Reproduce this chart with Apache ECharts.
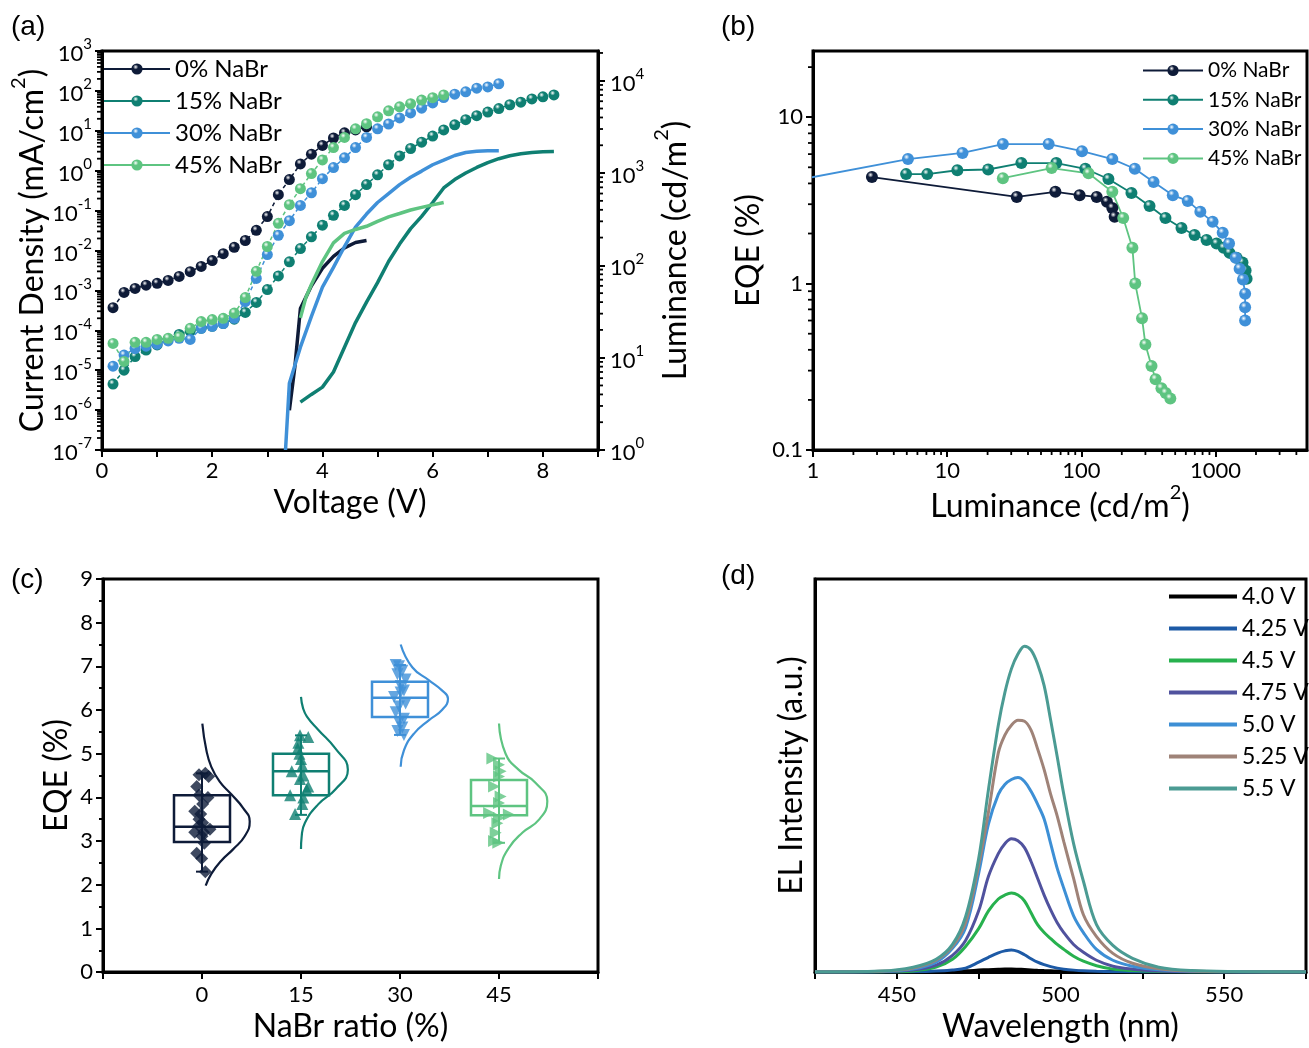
<!DOCTYPE html>
<html>
<head>
<meta charset="utf-8">
<script src="https://cdn.jsdelivr.net/npm/echarts@6.0.0/dist/echarts.min.js"></script>
<style>
html,body{margin:0;padding:0;background:#fff;}
#chart{width:1309px;height:1048px;}
</style>
</head>
<body>
<div id="chart"></div>
<script>
// ================= DATA =================
// (a) current density vs voltage
const voltage = [0.2,0.4,0.6,0.8,1.0,1.2,1.4,1.6,1.8,2.0,2.2,2.4,2.6,2.8,3.0,3.2,3.4,3.6,3.8,4.0,4.2,4.4,4.6,4.8,5.0,5.2,5.4,5.6,5.8,6.0,6.2,6.4,6.6,6.8,7.0,7.2,7.4,7.6,7.8,8.0,8.2];
const J0  = [3.7e-4,8.9e-4,1.12e-3,1.35e-3,1.5e-3,1.78e-3,2.24e-3,2.95e-3,3.98e-3,5.6e-3,8.3e-3,1.2e-2,1.78e-2,3.2e-2,7.1e-2,0.25,0.6,1.48,2.6,4.3,6.6,8.9,10.5,12.6];
const J15 = [4.5e-6,1.0e-5,2.2e-5,3.2e-5,4.3e-5,6.0e-5,7.9e-5,9.5e-5,1.12e-4,1.26e-4,1.48e-4,1.9e-4,2.8e-4,5.0e-4,1.05e-3,2.3e-3,5.2e-3,1.12e-2,2.2e-2,4.3e-2,7.6e-2,0.135,0.25,0.45,0.79,1.41,2.34,3.6,5.2,7.4,10.5,14.1,19,24,29.5,36,45,52,63,71,79];
const J30 = [1.26e-5,2.4e-5,3.5e-5,4.0e-5,4.5e-5,5.4e-5,6.3e-5,5.9e-5,1.12e-4,1.26e-4,1.48e-4,2.0e-4,5.2e-4,2.0e-3,7.9e-3,2.4e-2,5.6e-2,0.135,0.28,0.63,1.2,2.1,3.8,6.8,11.2,14.8,21,28,37,50,68,83,95,117,126,151];
const J45 = [4.7e-5,1.66e-5,5.0e-5,5.0e-5,5.9e-5,6.3e-5,6.8e-5,1.12e-4,1.66e-4,1.86e-4,2.0e-4,2.7e-4,6.6e-4,3.0e-3,1.26e-2,4.8e-2,0.141,0.355,0.85,1.86,3.8,6.8,11.2,15.1,22.4,31.6,39.8,47.9,58.9,67.6,79.4];
// (a) luminance vs voltage
const lumV0  = [3.4,3.5,3.6,3.8,4.0,4.2,4.4,4.6,4.8];
const lum0   = [2.7,8,34,60,93,125,155,177,186];
const lumV15 = [3.6,3.8,4.0,4.2,4.4,4.6,4.8,5.0,5.2,5.4,5.6,5.8,6.0,6.2,6.4,6.6,6.8,7.0,7.2,7.4,7.6,7.8,8.0,8.2];
const lum15  = [3.3,4.0,4.8,7,13,24,40,65,110,170,250,340,480,690,850,1000,1150,1300,1430,1540,1620,1670,1700,1710];
const lumV30 = [3.33,3.4,3.6,3.8,4.0,4.2,4.4,4.6,4.8,5.0,5.2,5.4,5.6,5.8,6.0,6.2,6.4,6.6,6.8,7.0,7.2];
const lum30  = [1.0,5.3,13,28,58,95,160,260,360,480,600,750,900,1050,1230,1380,1550,1670,1720,1740,1740];
const lumV45 = [3.6,3.7,3.8,4.0,4.2,4.4,4.6,4.8,5.0,5.2,5.4,5.6,5.8,6.0,6.2];
const lum45  = [27,45,62,110,175,222,245,265,300,335,365,398,425,452,480];
// (b) EQE vs luminance
const lumB0  = [2.75,33,64,97,130,155,170,177];
const eqeB0  = [4.37,3.32,3.56,3.4,3.32,3.1,2.85,2.52];
const lumB15 = [4.94,7.1,11.9,20.2,35.7,65,107,159,236,322,423,557,697,857,1017,1148,1271,1435,1587,1674,1703];
const eqeB15 = [4.55,4.55,4.8,4.85,5.3,5.3,4.9,4.25,3.5,2.93,2.48,2.16,1.96,1.83,1.74,1.64,1.53,1.43,1.34,1.2,1.07];
const lumB30 = [0.5,5.1,13,26,57,101,170,250,345,480,620,770,950,1130,1260,1410,1510,1600,1660,1660,1660];
const eqeB30 = [3.93,5.6,6.1,6.9,6.9,6.25,5.6,4.9,4.08,3.4,3.14,2.7,2.35,2.02,1.74,1.43,1.23,1.06,0.87,0.72,0.6];
const lumB45 = [26,60,113,170,205,240,252,283,300,333,357,395,425,460];
const eqeB45 = [4.3,4.95,4.6,3.56,2.48,1.64,1.0,0.62,0.43,0.32,0.266,0.235,0.22,0.204];
// (c) EQE statistics
const ratioCats   = [0,15,30,45];
const ratioLabels = ['0','15','30','45'];
const eqe0  = [4.52,4.55,4.48,4.25,4.05,4.0,3.85,3.68,3.62,3.5,3.42,3.35,3.27,3.2,3.2,3.11,2.95,2.72,2.6,2.3];
const jit0  = [-0.45,0.5,1.0,-0.8,-0.45,0.9,0.1,-1.1,-0.2,-0.45,0.1,-0.45,1.2,-1.1,0.25,0,0.35,-0.8,-0.05,0.5];
const eqe15 = [5.42,5.38,5.25,5.12,5.0,4.88,4.73,4.6,4.5,4.42,4.25,4.18,4.05,4.0,3.85,3.62];
const jit15 = [-0.15,1.1,-0.4,-0.5,-0.25,0,0.2,-1.4,0.35,-0.15,1.1,0.85,-1.65,0.35,0.2,-0.9];
const eqe30 = [7.03,7.0,6.9,6.82,6.7,6.55,6.45,6.4,6.3,6.15,6.08,5.95,5.8,5.72,5.6,5.52,5.43];
const jit30 = [-0.65,-0.15,0.35,-0.4,0.85,0.1,0.6,0.1,-0.9,0.85,-0.15,-0.65,0.6,-0.15,0.35,-0.4,0.6];
const eqe45 = [4.89,4.75,4.6,4.48,4.25,4.02,3.87,3.64,3.61,3.53,3.41,3.19,3.0,2.96];
const jit45 = [-1.0,0,0.25,0,-0.75,0.25,0,-1.5,1.5,0,-0.25,-0.5,-0.75,-0.1];
// box: [min, Q1, median, Q3, max]
const box0  = [2.3,2.98,3.33,4.05,4.55];
const box15 = [3.6,4.05,4.6,5.0,5.42];
const box30 = [5.43,5.84,6.28,6.65,7.03];
const box45 = [2.96,3.59,3.8,4.4,4.89];
// distribution curves: [EQE, width in ratio units]
const curve0  = [[5.69,0.05],[5.09,0.65],[4.70,1.41],[4.36,2.68],[4.07,4.44],[3.76,6.21],[3.45,7.23],[3.11,6.47],[2.81,4.70],[2.55,2.92],[2.25,1.41],[1.98,0.56]];
const curve15 = [[6.3,0],[6.05,0.3],[5.85,0.9],[5.55,2.6],[5.12,5.2],[4.63,7.1],[4.18,5.2],[3.84,2.6],[3.42,0.6],[3.1,0.1],[2.82,0]];
const curve30 = [[7.5,0.1],[6.98,1.86],[6.68,4.4],[6.45,6.36],[6.26,7.27],[6.0,6.36],[5.77,4.4],[5.46,2.12],[5.08,0.6],[4.7,0.1]];
const curve45 = [[5.69,0],[5.0,1.0],[4.63,3.0],[4.33,5.56],[3.91,7.32],[3.49,6.06],[3.19,3.53],[2.85,1.52],[2.43,0.26],[2.13,0]];
// (d) EL spectra
const wl    = [425,445,455,462,467,471,475,478,481,483,485,487,489,491,493,495,497,499,501,504,507,511,516,522,530,540,555,575];
const el40  = [0,0,0,0.2,0.5,0.8,1.5,2,2.4,2.6,2.6,2.4,2.1,1.7,1.3,1,0.8,0.6,0.4,0.3,0.2,0.1,0,0,0,0,0,0];
const el425 = [0,0,0.3,1,2.2,4,10,15,19.5,21.5,22.5,21,17.5,13.5,10,7.5,5.5,4,3,2,1.3,0.8,0.4,0.2,0,0,0,0];
const el45  = [0,0.2,1.2,5,13,26,44,62,74,78,80,78,72,60,48,40,34,28,23,16,11,6.5,3,1.5,0.5,0.2,0,0];
const el475 = [0,0.4,2,7,17,32,62,97,120,130,135,133,126,112,95,78,63,50,40,28,20,12,6,3,1.2,0.4,0,0];
const el50  = [0,0.6,3,10,24,45,100,150,180,190,195,197,193,183,170,155,130,105,85,57,40,23,12,6,2.5,0.8,0.2,0];
const el525 = [0,0.8,4,12,26,50,108,162,222,240,250,255,254,245,226,205,180,158,132,95,58,36,19,9,3.5,1,0.3,0];
const el55  = [0,1,5,13,28,56,115,185,250,283,307,322,330,326,312,290,255,218,180,130,92,48,27,14,5,1.5,0.5,0];
const voltLabels = ['4.0 V','4.25 V','4.5 V','4.75 V','5.0 V','5.25 V','5.5 V'];
const seriesNames = ['0% NaBr','15% NaBr','30% NaBr','45% NaBr'];
// minor-tick mantissas for the logarithmic axes
const mantissas = [2,3,4,5,6,7,8,9];

// ================= STYLE =================
const FONT = 'Lato';
const navy='#0e1b38', teal='#0f7f72', blue='#3f90d8', green='#5ec481';
const mainColors = [navy, teal, blue, green];
const elColors = ['#000000','#1d5aa6','#27b14e','#50529e','#3d8fd5','#9f8378','#4b9b93'];
function sphere(c){return {type:'radial',x:0.38,y:0.32,r:0.72,colorStops:[{offset:0,color:'#ffffff'},{offset:0.32,color:c},{offset:1,color:c}]};}
const zip = (xs, ys) => ys.map((y,i)=>[xs[i], y]);

const powRich = {
  b:{fontSize:22,fontFamily:FONT,color:'#000',lineHeight:28,verticalAlign:'bottom'},
  s:{fontSize:15,fontFamily:FONT,color:'#000',lineHeight:12,verticalAlign:'top'}
};
const nameRich = {
  t:{fontSize:32,fontFamily:FONT,color:'#000',lineHeight:40,verticalAlign:'bottom'},
  s:{fontSize:20,fontFamily:FONT,color:'#000',lineHeight:18,verticalAlign:'top'}
};
function isPow(v){const l=Math.log10(v);return Math.abs(l-Math.round(l))<1e-6;}
function powLabel(v){ if(!isPow(v)) return ''; return '{b|10}{s|'+Math.round(Math.log10(v))+'}'; }
function decLabel(v){ if(!isPow(v)) return ''; const e=Math.round(Math.log10(v)); return e<0 ? Math.pow(10,e).toFixed(-e) : String(Math.round(Math.pow(10,e))); }

function axisBase(extra){
  const base = {
    axisLine:{show:true,onZero:false,lineStyle:{color:'#000',width:3}},
    axisTick:{show:true,inside:false,length:7,lineStyle:{color:'#000',width:2}},
    axisLabel:{show:true,color:'#000',fontSize:22,fontFamily:FONT,margin:10},
    splitLine:{show:false},
    nameLocation:'middle',
    nameTextStyle:{color:'#000',fontSize:32,fontFamily:FONT,lineHeight:40}
  };
  for (const k in extra){
    if (base[k] && typeof base[k]==='object' && typeof extra[k]==='object' && !Array.isArray(extra[k])) base[k]=Object.assign({},base[k],extra[k]);
    else base[k]=extra[k];
  }
  return base;
}
const gridStyle = {show:true,borderColor:'#000',borderWidth:3,backgroundColor:'transparent'};

// minor ticks of log axes (drawn as short strokes at the axis line)
function logMinor(lo, hi){
  const out=[];
  for(let e=Math.floor(Math.log10(lo)); e<=Math.ceil(Math.log10(hi)); e++){
    mantissas.forEach(m=>{const v=+(m*Math.pow(10,e)).toPrecision(6); if(v>lo && v<hi) out.push(v);});
  }
  return out;
}
function tickSeries(xi, yi, pts, dir, len){
  return {type:'custom',xAxisIndex:xi,yAxisIndex:yi,silent:true,z:6,clip:false,data:pts,encode:{x:0,y:1},
    renderItem:(params,api)=>{
      const p=api.coord([api.value(0),api.value(1)]); let x2=p[0], y2=p[1];
      if(dir==='left') x2-=len+1.5; else if(dir==='right') x2+=len+1.5; else y2+=len+1.5;
      return {type:'line',shape:{x1:p[0],y1:p[1],x2:x2,y2:y2},style:{stroke:'#000',lineWidth:1.8}};
    }};
}

// ================= SERIES =================
const series = [];
// (a) luminance lines
[[lumV0,lum0],[lumV15,lum15],[lumV30,lum30],[lumV45,lum45]].forEach((p,i)=>{
  series.push({type:'line',name:'L'+i,xAxisIndex:0,yAxisIndex:1,data:zip(p[0],p[1]),symbol:'none',
    lineStyle:{color:mainColors[i],width:3.5},z:2,clip:true});
});
// (a) current density
[J0,J15,J30,J45].forEach((J,i)=>{
  series.push({type:'line',name:seriesNames[i],xAxisIndex:0,yAxisIndex:0,data:zip(voltage,J),
    symbol:'circle',symbolSize:11,itemStyle:{color:sphere(mainColors[i])},
    lineStyle:{color:mainColors[i],width:1.5,type:[4,3]},z:3});
});
// (b) EQE vs luminance
[[lumB0,eqeB0],[lumB15,eqeB15],[lumB30,eqeB30],[lumB45,eqeB45]].forEach((p,i)=>{
  series.push({type:'line',name:seriesNames[i],xAxisIndex:1,yAxisIndex:2,data:zip(p[0],p[1]),
    symbol:'circle',symbolSize:12,itemStyle:{color:sphere(mainColors[i])},
    lineStyle:{color:mainColors[i],width:1.8},z:3,clip:true});
});
// (c) boxes
const boxes = [box0,box15,box30,box45];
series.push({type:'custom',xAxisIndex:2,yAxisIndex:3,z:2,
  data: ratioCats.map((c,i)=>[c].concat(boxes[i])),
  encode:{x:0,y:[1,2,3,4,5]},
  renderItem:(params,api)=>{
    const x=api.value(0), col=mainColors[params.dataIndex];
    const p=[1,2,3,4,5].map(k=>api.coord([x,api.value(k)]));
    const hw=28, cw=6;
    return {type:'group',children:[
      {type:'line',shape:{x1:p[0][0],y1:p[0][1],x2:p[4][0],y2:p[4][1]},style:{stroke:col,lineWidth:2}},
      {type:'line',shape:{x1:p[0][0]-cw,y1:p[0][1],x2:p[0][0]+cw,y2:p[0][1]},style:{stroke:col,lineWidth:2}},
      {type:'line',shape:{x1:p[4][0]-cw,y1:p[4][1],x2:p[4][0]+cw,y2:p[4][1]},style:{stroke:col,lineWidth:2}},
      {type:'rect',shape:{x:p[3][0]-hw,y:p[3][1],width:2*hw,height:p[1][1]-p[3][1]},style:{stroke:col,lineWidth:2.5,fill:'rgba(0,0,0,0)'}},
      {type:'line',shape:{x1:p[2][0]-hw,y1:p[2][1],x2:p[2][0]+hw,y2:p[2][1]},style:{stroke:col,lineWidth:2.5}}
    ]};
  }
});
// (c) points
const ptSets = [[eqe0,jit0,'diamond',0,13],[eqe15,jit15,'triangle',0,12],[eqe30,jit30,'triangle',180,12],[eqe45,jit45,'triangle',-90,12]];
ptSets.forEach((s,i)=>{
  series.push({type:'scatter',xAxisIndex:2,yAxisIndex:3,z:4,symbol:s[2],symbolRotate:s[3],symbolSize:s[4],
    itemStyle:{color:mainColors[i]},data:s[0].map((v,k)=>[ratioCats[i]+s[1][k],v])});
});
// (c) distribution curves
[curve0,curve15,curve30,curve45].forEach((cv,i)=>{
  series.push({type:'line',xAxisIndex:2,yAxisIndex:3,z:3,symbol:'none',smooth:0.5,
    lineStyle:{color:mainColors[i],width:2.2},data:cv.map(p=>[ratioCats[i]+p[1],p[0]])});
});
// (d) spectra
[el40,el425,el45,el475,el50,el525,el55].forEach((d,i)=>{
  series.push({type:'line',name:voltLabels[i],xAxisIndex:3,yAxisIndex:4,data:zip(wl,d),symbol:'none',smooth:0.35,
    lineStyle:{color:elColors[i],width:i===0?4:3},itemStyle:{color:elColors[i]},z:2+i*0.01});
});
// minor ticks on log axes
series.push(tickSeries(0,0,logMinor(1e-7,1e3).map(v=>[0,v]),'left',3.5));
series.push(tickSeries(0,1,logMinor(1,21000).map(v=>[9,v]),'right',3.5));
series.push(tickSeries(1,2,logMinor(0.1,25).map(v=>[1,v]),'left',3.5));
series.push(tickSeries(1,2,logMinor(1,4800).map(v=>[v,0.1]),'down',3.5));

// ================= OPTION =================
const legendText = (fs)=>({color:'#000',fontSize:fs,fontFamily:FONT,lineHeight:fs});
const option = {
  animation:false,
  backgroundColor:'#fff',
  grid:[
    Object.assign({left:102,top:51,width:496,height:399},gridStyle),
    Object.assign({left:813,top:51,width:494,height:399},gridStyle),
    Object.assign({left:103,top:579,width:495,height:398},gridStyle),
    Object.assign({left:815,top:579,width:498,height:398},gridStyle)
  ],
  xAxis:[
    axisBase({gridIndex:0,type:'value',min:0,max:9,interval:1,name:'Voltage (V)',nameGap:32,
      axisLabel:{formatter:v=>(v%2===0&&v<9)?String(v):''}}),
    axisBase({gridIndex:1,type:'log',logBase:10,min:1,max:4800,interval:1,name:'{t|Luminance (cd/m}{s|2}{t|)}',nameGap:32,
      nameTextStyle:{rich:nameRich},axisLabel:{formatter:decLabel,showMaxLabel:false}}),
    axisBase({gridIndex:2,type:'value',min:-15,max:60,interval:15,name:'NaBr ratio (%)',nameGap:34,
      axisLabel:{formatter:v=>{const k=ratioCats.indexOf(v);return k>=0?ratioLabels[k]:'';},margin:12}}),
    axisBase({gridIndex:3,type:'value',min:425,max:575,interval:25,name:'Wavelength (nm)',nameGap:34,
      axisLabel:{formatter:v=>(v%50===0)?String(v):'',margin:12}})
  ],
  yAxis:[
    axisBase({gridIndex:0,type:'log',logBase:10,min:1e-7,max:1e3,interval:1,name:'{t|Current Density (mA/cm}{s|2}{t|)}',nameGap:52,
      nameTextStyle:{rich:nameRich},axisLabel:{formatter:powLabel,rich:powRich}}),
    axisBase({gridIndex:0,type:'log',logBase:10,position:'right',min:1,max:21000,interval:1,name:'{t|Luminance (cd/m}{s|2}{t|)}',nameGap:54,
      nameTextStyle:{rich:nameRich},axisLabel:{formatter:powLabel,rich:powRich,showMaxLabel:false,margin:12}}),
    axisBase({gridIndex:1,type:'log',logBase:10,min:0.1,max:25,interval:1,name:'EQE (%)',nameGap:40,
      axisLabel:{formatter:decLabel,showMaxLabel:false}}),
    axisBase({gridIndex:2,type:'value',min:0,max:9,interval:1,name:'EQE (%)',nameGap:17,
      minorTick:{show:true,splitNumber:2,length:4,lineStyle:{color:'#000',width:2}}}),
    axisBase({gridIndex:3,type:'value',min:0,max:398,name:'EL Intensity (a.u.)',nameGap:3,
      axisTick:{show:false},axisLabel:{show:false}})
  ],
  legend:[
    {data:seriesNames,orient:'vertical',left:103,top:57,padding:0,itemWidth:66,itemHeight:14,itemGap:8,
      textStyle:legendText(24),lineStyle:{type:'solid',width:2},selectedMode:false},
    {data:seriesNames,orient:'vertical',left:1142,top:60,padding:0,itemWidth:60,itemHeight:14,itemGap:8.3,
      textStyle:legendText(21),lineStyle:{type:'solid',width:2},selectedMode:false},
    {data:voltLabels,orient:'vertical',left:1169,top:585,padding:0,icon:'rect',itemWidth:68,itemHeight:4,itemGap:9,
      textStyle:legendText(23),selectedMode:false}
  ],
  graphic:[
    {type:'text',left:11,top:13,style:{text:'(a)',font:'28px "Liberation Sans"',fill:'#000'}},
    {type:'text',left:721,top:13,style:{text:'(b)',font:'28px "Liberation Sans"',fill:'#000'}},
    {type:'text',left:11,top:566,style:{text:'(c)',font:'28px "Liberation Sans"',fill:'#000'}},
    {type:'text',left:721,top:562,style:{text:'(d)',font:'28px "Liberation Sans"',fill:'#000'}}
  ],
  series:series
};
const chart = echarts.init(document.getElementById('chart'));
chart.setOption(option);
</script>
</body>
</html>
